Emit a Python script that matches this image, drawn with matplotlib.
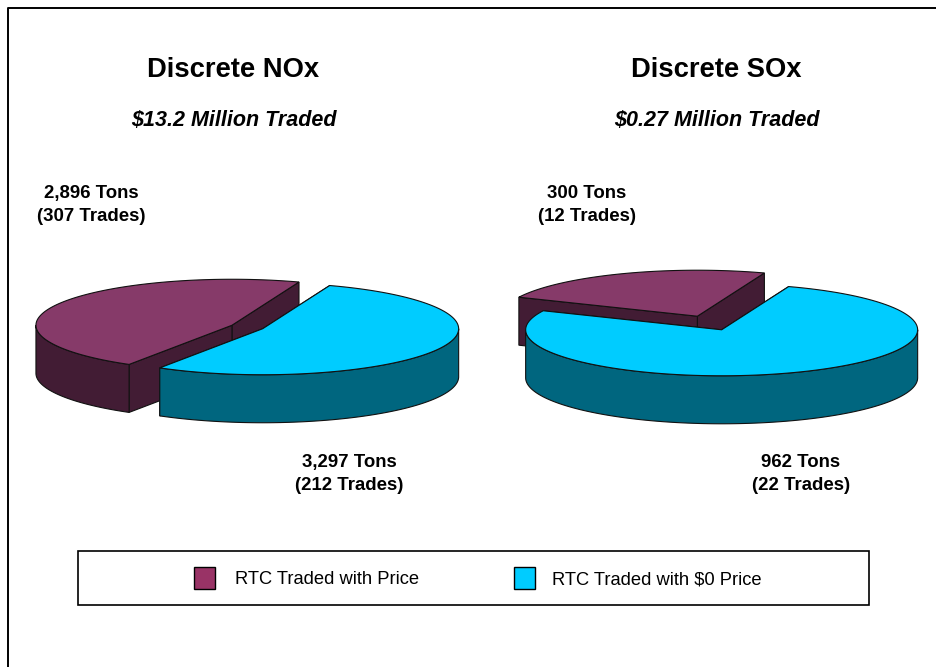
import numpy as np
import matplotlib
matplotlib.use('Agg')
import matplotlib.pyplot as plt
from matplotlib.patches import Polygon, Rectangle

plt.rcParams['font.family'] = ['Liberation Sans', 'DejaVu Sans']

titles = ['Discrete NOx', 'Discrete SOx']
subtitles = ['$13.2 Million Traded', '$0.27 Million Traded']
series_names = ['RTC Traded with Price', 'RTC Traded with $0 Price']
tons_nox = [2896, 3297]
tons_sox = [300, 962]
trades_nox = [307, 212]
trades_sox = [12, 22]

TOP_COLORS = ['#863a69', '#00ccff']
WALL_COLORS = ['#421c34', '#00667f']
LEGEND_COLORS = ['#993366', '#00ccff']
EDGE = '#111111'

RX, RY, DEPTH = 196, 46, 48
START = 70  # degrees, where the two slices meet at the back


def arc(cx, cy, a0, a1):
    t = np.radians(np.linspace(a0, a1, 120))
    return np.column_stack([cx + RX * np.cos(t), cy - RY * np.sin(t)])


def wall(ax, pts, color, z):
    low = pts[::-1] + [0, DEPTH]
    ax.add_patch(Polygon(np.vstack([pts, low]), closed=True, fc=color, ec=EDGE, lw=0.8, zorder=z))


def slice_3d(ax, cx, cy, a0, a1, i, z):
    # a0 -> a1 goes counter clockwise
    apex = np.array([cx, cy])
    outer = arc(cx, cy, a0, a1)
    first = np.array([apex, outer[0]])
    last = np.array([apex, outer[-1]])
    # front part of the rim, sin < 0
    for k in (-360, 0, 360):
        lo, hi = max(a0, 180 + k), min(a1, 360 + k)
        if hi > lo:
            wall(ax, arc(cx, cy, lo, hi), WALL_COLORS[i], z + 0.2)
    # cut faces are only seen when they look towards the viewer
    wall(ax, first, WALL_COLORS[i], z)
    wall(ax, last, WALL_COLORS[i], z)
    top = np.vstack([apex, outer])
    ax.add_patch(Polygon(top, closed=True, fc=TOP_COLORS[i], ec=EDGE, lw=0.8, zorder=z + 0.4))


def pie_3d(ax, cx, cy, values, explode):
    total = sum(values)
    sweep = [v / total * 360 for v in values]
    # first slice runs ccw from START, second one takes the rest
    spans = [(START, START + sweep[0]), (START - sweep[1], START)]
    for i, (a0, a1) in enumerate(spans):
        mid = np.radians((a0 + a1) / 2)
        x = cx + explode * RX * np.cos(mid)
        y = cy - explode * RY * np.sin(mid)
        slice_3d(ax, x, y, a0, a1, i, 2 + i * 2)


fig = plt.figure(figsize=(9.36, 6.67), dpi=100)
ax = fig.add_axes([0, 0, 1, 1])
ax.set_xlim(0, 936)
ax.set_ylim(667, 0)
ax.axis('off')

# page frame, only left and top are inside the picture
ax.plot([8, 8, 936], [667, 8, 8], color='black', lw=1.4, zorder=1)

pie_3d(ax, 247.3, 327, tons_nox, 0.087)
pie_3d(ax, 709.5, 323, tons_sox, 0.16)

for x, t, s in zip([233, 716], titles, subtitles):
    ax.text(x, 70, t, ha='center', va='center', fontsize=19.7, fontweight='bold', parse_math=False)
    ax.text(x + 0.5, 121, s, ha='center', va='center', fontsize=15.5, fontweight='bold',
            fontstyle='italic', parse_math=False)


def label(x, y, tons, trades):
    ax.text(x, y, f'{tons:,} Tons\n({trades} Trades)', ha='center', va='center',
            fontsize=13.4, fontweight='bold', linespacing=1.46)


label(91, 205, tons_nox[0], trades_nox[0])
label(349, 474, tons_nox[1], trades_nox[1])
label(586.5, 205, tons_sox[0], trades_sox[0])
label(801, 474, tons_sox[1], trades_sox[1])

ax.add_patch(Rectangle((78, 551), 791, 54, fc='white', ec='black', lw=1.2, zorder=1))
for x, tx, c, n in zip([194, 514], [235, 552], LEGEND_COLORS, series_names):
    ax.add_patch(Rectangle((x, 567), 21, 22, fc=c, ec='black', lw=1.0, zorder=2))
    ax.text(tx, 580, n, ha='left', va='center', fontsize=13.2, parse_math=False, zorder=3)

fig.savefig('out.png', dpi=100)
